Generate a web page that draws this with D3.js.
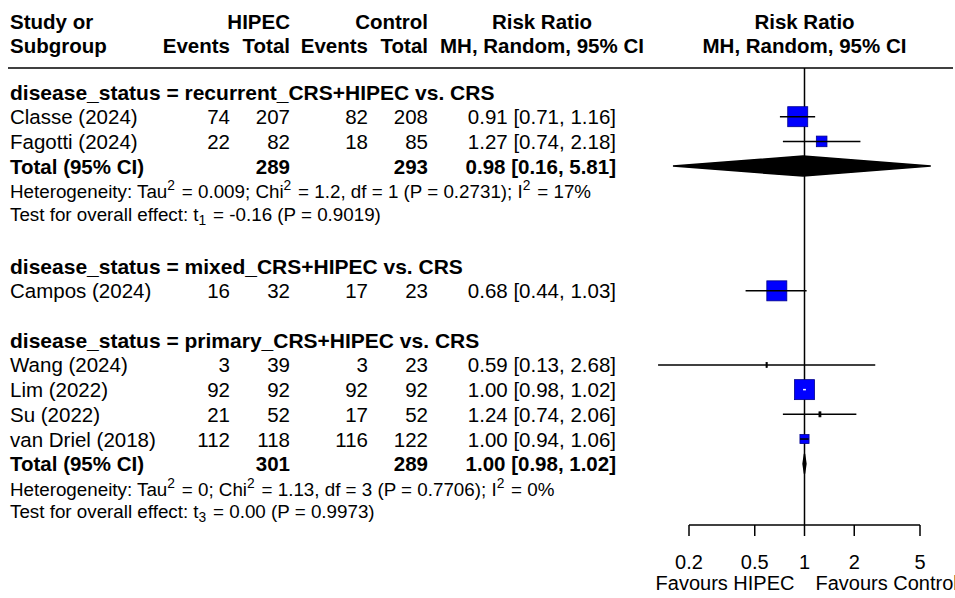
<!DOCTYPE html>
<html>
<head>
<meta charset="utf-8">
<script src="https://cdn.jsdelivr.net/npm/d3@7"></script>
<style>
  body { margin: 0; background: #fff; }
  text { font-family: "Liberation Sans", Arial, sans-serif; fill: #000; }
</style>
</head>
<body>
<div id="chart"></div>
<script>
var width = 955, height = 598;

var groups = ["recurrent_CRS+HIPEC vs. CRS", "mixed_CRS+HIPEC vs. CRS", "primary_CRS+HIPEC vs. CRS"];

var studies   = ["Classe (2024)", "Fagotti (2024)", "Campos (2024)", "Wang (2024)", "Lim (2022)", "Su (2022)", "van Driel (2018)"];
var studyGrp  = [0, 0, 1, 2, 2, 2, 2];
var eventsE   = [74, 22, 16, 3, 92, 21, 112];
var totalE    = [207, 82, 32, 39, 92, 52, 118];
var eventsC   = [82, 18, 17, 3, 92, 17, 116];
var totalC    = [208, 85, 23, 23, 92, 52, 122];
var rr        = [0.91, 1.27, 0.68, 0.59, 1.00, 1.24, 1.00];
var rrLow     = [0.71, 0.74, 0.44, 0.13, 0.98, 0.74, 0.94];
var rrHigh    = [1.16, 2.18, 1.03, 2.68, 1.02, 2.06, 1.06];
var weight    = [78, 22, 100, 0.2, 82, 0.8, 17];

// subgroup totals
var totGrp    = [0, 2];
var totE      = [289, 301];
var totC      = [293, 289];
var totRR     = [0.98, 1.00];
var totLow    = [0.16, 0.98];
var totHigh   = [5.81, 1.02];
var tau2      = ["0.009", "0"];
var chi2      = ["1.2", "1.13"];
var hetDf     = [1, 3];
var hetP      = ["0.2731", "0.7706"];
var i2        = ["17%", "0%"];
var testT     = ["-0.16", "0.00"];
var testP     = ["0.9019", "0.9973"];

var ticks = [0.2, 0.5, 1, 2, 5];

var fs = 20.5, fsHead = 21, fsStat = 18.8, lh = 24.7, top0 = 92;
var colStudy = 10, colEvE = 230, colTotE = 290, colEvC = 368, colTotC = 428, colRR = 616;

var x = d3.scaleLog().domain([0.2, 5]).range([689, 920]);
var fmt = d3.format(".2f");

var svg = d3.select("#chart").append("svg")
    .attr("width", width).attr("height", height);

// build row layout
var rows = [], r = 0;
groups.forEach(function(g, gi){
    rows.push({type: "head", label: "disease_status = " + g, pos: r});
    r += 1;
    var w = weight.filter(function(d, i){ return studyGrp[i] === gi; });
    var size = d3.scaleSqrt().domain([0, d3.max(w)]).range([0, 20]);
    studies.forEach(function(s, i){
        if (studyGrp[i] !== gi) return;
        rows.push({type: "study", i: i, size: size(weight[i]), pos: r});
        r += 1;
    });
    var t = totGrp.indexOf(gi);
    if (t >= 0) {
        rows.push({type: "total", t: t, pos: r});
        rows.push({type: "het", t: t, pos: r + 1});
        rows.push({type: "test", t: t, pos: r + 1.9});
        r += 4.05;
    } else {
        r += 1;
    }
});

var y = function(p){ return top0 + p * lh; };

// header
var hd = svg.append("g").attr("font-weight", "bold").attr("font-size", fs);
hd.append("text").attr("x", colStudy).attr("y", 29).text("Study or");
hd.append("text").attr("x", colStudy).attr("y", 53).text("Subgroup");
hd.append("text").attr("x", colTotE).attr("y", 29).attr("text-anchor", "end").text("HIPEC");
hd.append("text").attr("x", colTotC).attr("y", 29).attr("text-anchor", "end").text("Control");
[["Events", colEvE], ["Total", colTotE], ["Events", colEvC], ["Total", colTotC]].forEach(function(d){
    hd.append("text").attr("x", d[1]).attr("y", 53).attr("text-anchor", "end").text(d[0]);
});
hd.append("text").attr("x", 542).attr("y", 29).attr("text-anchor", "middle").text("Risk Ratio");
hd.append("text").attr("x", 542).attr("y", 53).attr("text-anchor", "middle").text("MH, Random, 95% CI");
hd.append("text").attr("x", x(1)).attr("y", 29).attr("text-anchor", "middle").text("Risk Ratio");
hd.append("text").attr("x", x(1)).attr("y", 53).attr("text-anchor", "middle").text("MH, Random, 95% CI");

svg.append("line").attr("x1", 8).attr("x2", 953).attr("y1", 68).attr("y2", 68)
    .attr("stroke", "#000").attr("stroke-width", 1.5);

var axisY = 525;

// reference line
svg.append("line").attr("x1", x(1)).attr("x2", x(1)).attr("y1", 68).attr("y2", axisY)
    .attr("stroke", "#000").attr("stroke-width", 1.5);

function num(g, val, xx, yy, bold){
    g.append("text").attr("x", xx).attr("y", yy).attr("text-anchor", "end")
        .attr("font-weight", bold ? "bold" : null).text(val);
}

function supText(g, yy, parts){
    var t = g.append("text").attr("x", colStudy).attr("y", yy).attr("font-size", fsStat);
    parts.forEach(function(p){
        if (typeof p === "string") t.append("tspan").text(p);
        else {
            t.append("tspan").attr("dy", p.dy).attr("font-size", fsStat - 5).text(p.s);
            t.append("tspan").attr("dy", -p.dy).text("\u200A");
        }
    });
}

var body = svg.append("g").attr("font-size", fs);

rows.forEach(function(d){
    var cy = y(d.pos), by = cy + 7.5, t;
    if (d.type === "head") {
        body.append("text").attr("x", colStudy).attr("y", by).attr("font-weight", "bold")
            .attr("font-size", fsHead).text(d.label);
    } else if (d.type === "study") {
        var i = d.i;
        body.append("text").attr("x", colStudy).attr("y", by).text(studies[i]);
        num(body, eventsE[i], colEvE, by);
        num(body, totalE[i], colTotE, by);
        num(body, eventsC[i], colEvC, by);
        num(body, totalC[i], colTotC, by);
        num(body, fmt(rr[i]) + " [" + fmt(rrLow[i]) + ", " + fmt(rrHigh[i]) + "]", colRR, by);
        var s = d.size, sw = Math.max(s, 1.2), sh = Math.max(s, 5);
        svg.append("rect")
            .attr("x", x(rr[i]) - sw / 2).attr("y", cy - sh / 2)
            .attr("width", sw).attr("height", sh)
            .attr("fill", s < 3 ? "#000" : "#0000ff")
            .attr("stroke", s < 3 ? "#000" : "#00008b").attr("stroke-width", 0.8);
        var inside = x(rrHigh[i]) - x(rrLow[i]) < s - 4;
        svg.append("line")
            .attr("x1", x(rrLow[i])).attr("x2", x(rrHigh[i]))
            .attr("y1", cy).attr("y2", cy)
            .attr("stroke", inside ? "#fff" : "#000").attr("stroke-width", 1.5);
    } else if (d.type === "total") {
        t = d.t;
        body.append("text").attr("x", colStudy).attr("y", by).attr("font-weight", "bold").text("Total (95% CI)");
        num(body, totE[t], colTotE, by, true);
        num(body, totC[t], colTotC, by, true);
        num(body, fmt(totRR[t]) + " [" + fmt(totLow[t]) + ", " + fmt(totHigh[t]) + "]", colRR, by, true);
        var pts = [[x(totLow[t]), cy], [x(totRR[t]), cy - 10], [x(totHigh[t]), cy], [x(totRR[t]), cy + 10]];
        svg.append("path").attr("d", d3.line()(pts) + "Z")
            .attr("fill", "#000").attr("stroke", "#000").attr("stroke-width", 1.5);
    } else if (d.type === "het") {
        t = d.t;
        supText(body, by, ["Heterogeneity: Tau", {s: "2", dy: -8}, " = " + tau2[t] + "; Chi", {s: "2", dy: -8},
            " = " + chi2[t] + ", df = " + hetDf[t] + " (P = " + hetP[t] + "); I", {s: "2", dy: -8}, " = " + i2[t]]);
    } else if (d.type === "test") {
        t = d.t;
        supText(body, by, ["Test for overall effect: t", {s: String(hetDf[t]), dy: 4},
            " = " + testT[t] + " (P = " + testP[t] + ")"]);
    }
});

// axis
var ax = svg.append("g").attr("transform", "translate(0," + axisY + ")");
ax.append("line").attr("x1", x(0.2)).attr("x2", x(5)).attr("stroke", "#000").attr("stroke-width", 1.5);
ax.selectAll(".tk").data(ticks).enter().append("line")
    .attr("x1", x).attr("x2", x).attr("y1", 0).attr("y2", 11)
    .attr("stroke", "#000").attr("stroke-width", 1.5);
ax.selectAll(".tl").data(ticks).enter().append("text")
    .attr("x", x).attr("y", 44).attr("text-anchor", "middle").attr("font-size", 20)
    .text(function(d){ return d; });
ax.append("text").attr("x", x(1) - 10).attr("y", 65).attr("text-anchor", "end").attr("font-size", 20).text("Favours HIPEC");
ax.append("text").attr("x", x(1) + 11).attr("y", 65).attr("font-size", 20).text("Favours Control");
</script>
</body>
</html>
